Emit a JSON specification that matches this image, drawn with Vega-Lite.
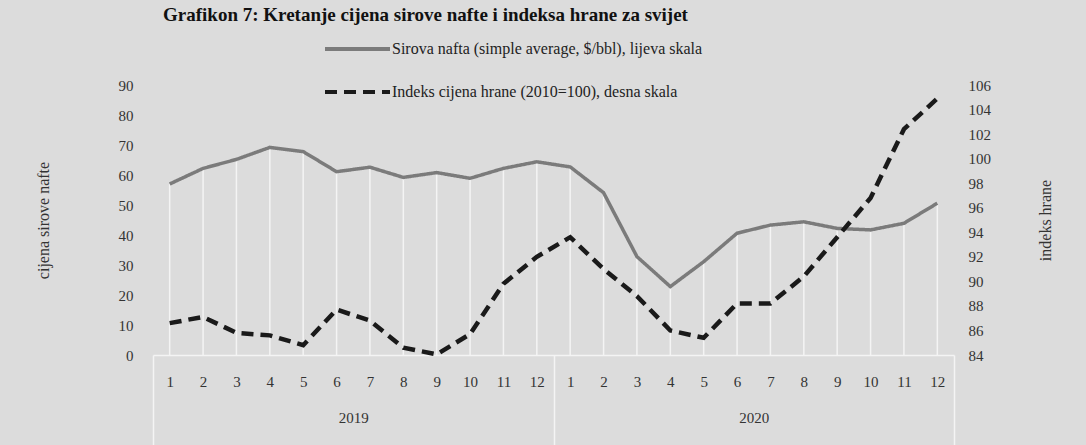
{
  "$schema": "https://vega.github.io/schema/vega-lite/v6.json",
  "width": 801,
  "height": 270,
  "autosize": {"type": "none"},
  "padding": {"left": 153, "top": 85, "right": 132, "bottom": 90},
  "background": "#dcdcdc",
  "config": {"view": {"stroke": null}, "font": "Liberation Serif"},
  "title": {
    "text": "Grafikon 7: Kretanje cijena sirove nafte i indeksa hrane za svijet",
    "anchor": "start",
    "frame": "group",
    "dx": 10,
    "dy": 27,
    "offset": -2,
    "fontSize": 19,
    "fontWeight": "bold",
    "font": "Liberation Serif",
    "color": "#111",
    "baseline": "bottom"
  },
  "data": {
    "values": [
      {"i": 1, "year": "2019", "oil": 57.0, "food": 86.6},
      {"i": 2, "year": "2019", "oil": 62.2, "food": 87.1},
      {"i": 3, "year": "2019", "oil": 65.2, "food": 85.8},
      {"i": 4, "year": "2019", "oil": 69.2, "food": 85.6},
      {"i": 5, "year": "2019", "oil": 67.8, "food": 84.8},
      {"i": 6, "year": "2019", "oil": 61.1, "food": 87.7},
      {"i": 7, "year": "2019", "oil": 62.6, "food": 86.8},
      {"i": 8, "year": "2019", "oil": 59.2, "food": 84.6},
      {"i": 9, "year": "2019", "oil": 60.8, "food": 84.05},
      {"i": 10, "year": "2019", "oil": 58.9, "food": 85.7},
      {"i": 11, "year": "2019", "oil": 62.2, "food": 89.8},
      {"i": 12, "year": "2019", "oil": 64.4, "food": 92.0},
      {"i": 13, "year": "2020", "oil": 62.7, "food": 93.6},
      {"i": 14, "year": "2020", "oil": 54.1, "food": 91.0},
      {"i": 15, "year": "2020", "oil": 32.8, "food": 88.8},
      {"i": 16, "year": "2020", "oil": 22.8, "food": 86.0},
      {"i": 17, "year": "2020", "oil": 31.1, "food": 85.4},
      {"i": 18, "year": "2020", "oil": 40.6, "food": 88.2},
      {"i": 19, "year": "2020", "oil": 43.3, "food": 88.2},
      {"i": 20, "year": "2020", "oil": 44.4, "food": 90.4},
      {"i": 21, "year": "2020", "oil": 42.2, "food": 93.6},
      {"i": 22, "year": "2020", "oil": 41.7, "food": 96.8},
      {"i": 23, "year": "2020", "oil": 43.9, "food": 102.4},
      {"i": 24, "year": "2020", "oil": 50.6, "food": 104.9}
    ]
  },
  "layer": [
    {
      "layer": [
        {
          "layer": [
            {
              "mark": {"type": "rule", "color": "#f4f4f4", "strokeWidth": 1.5},
              "encoding": {
                "x": {
                  "field": "i",
                  "type": "ordinal",
                  "scale": {"type": "point", "padding": 0.5},
                  "axis": {
                    "labelExpr": "(datum.value-1)%12+1",
                    "title": null,
                    "labelAngle": 0,
                    "ticks": false,
                    "domainColor": "#f4f4f4",
                    "domainWidth": 1.5,
                    "labelPadding": 19,
                    "labelFontSize": 15,
                    "labelColor": "#333"
                  }
                },
                "y": {
                  "field": "oil",
                  "type": "quantitative",
                  "scale": {"domain": [0, 90]},
                  "axis": {
                    "values": [0, 10, 20, 30, 40, 50, 60, 70, 80, 90],
                    "title": "cijena sirove nafte",
                    "titleFontSize": 16,
                    "titleFontWeight": "normal",
                    "titleColor": "#333",
                    "titlePadding": 67,
                    "grid": false,
                    "ticks": false,
                    "domain": false,
                    "labelPadding": 20,
                    "labelFontSize": 15,
                    "labelColor": "#333"
                  }
                },
                "y2": {"datum": 0}
              }
            },
            {
              "mark": {"type": "line", "strokeWidth": 3.5},
              "encoding": {
                "x": {"field": "i", "type": "ordinal"},
                "y": {
                  "field": "oil",
                  "type": "quantitative",
                  "axis": {
                    "values": [0, 10, 20, 30, 40, 50, 60, 70, 80, 90],
                    "title": "cijena sirove nafte",
                    "titleFontSize": 16,
                    "titleFontWeight": "normal",
                    "titleColor": "#333",
                    "titlePadding": 67,
                    "grid": false,
                    "ticks": false,
                    "domain": false,
                    "labelPadding": 20,
                    "labelFontSize": 15,
                    "labelColor": "#333"
                  }
                },
                "color": {
                  "datum": "Sirova nafta (simple average, $/bbl), lijeva skala",
                  "type": "nominal",
                  "scale": {
                    "domain": ["Sirova nafta (simple average, $/bbl), lijeva skala", "Indeks cijena hrane (2010=100), desna skala"],
                    "range": ["#7b7b7b", "#1a1a1a"]
                  },
                  "legend": {
                    "orient": "none",
                    "legendX": 170,
                    "legendY": -70.5,
                    "title": null,
                    "symbolType": "stroke",
                    "symbolSize": 4225,
                    "symbolStrokeWidth": 4,
                    "labelFontSize": 16,
                    "labelLimit": 600,
                    "rowPadding": -27,
                    "labelOffset": 0,
                    "labelColor": "#222"
                  }
                },
                "strokeDash": {
                  "datum": "Sirova nafta (simple average, $/bbl), lijeva skala",
                  "type": "nominal",
                  "scale": {
                    "domain": ["Sirova nafta (simple average, $/bbl), lijeva skala", "Indeks cijena hrane (2010=100), desna skala"],
                    "range": [[1, 0], [12, 7]]
                  },
                  "legend": {
                    "orient": "none",
                    "legendX": 170,
                    "legendY": -70.5,
                    "title": null,
                    "symbolType": "stroke",
                    "symbolSize": 4225,
                    "symbolStrokeWidth": 4,
                    "labelFontSize": 16,
                    "labelLimit": 600,
                    "rowPadding": -27,
                    "labelOffset": 0,
                    "labelColor": "#222"
                  }
                }
              }
            }
          ]
        },
        {
          "mark": {"type": "line", "strokeWidth": 4.5},
          "encoding": {
            "x": {"field": "i", "type": "ordinal"},
            "y": {
              "field": "food",
              "type": "quantitative",
              "scale": {"domain": [84, 106]},
              "axis": {
                "orient": "right",
                "values": [84, 86, 88, 90, 92, 94, 96, 98, 100, 102, 104, 106],
                "title": "indeks hrane",
                "titleAngle": -90,
                "titleFontSize": 16,
                "titleFontWeight": "normal",
                "titleColor": "#333",
                "titlePadding": 63,
                "grid": false,
                "ticks": false,
                "domain": false,
                "labelPadding": 14,
                "labelFontSize": 15,
                "labelColor": "#333"
              }
            },
            "color": {"datum": "Indeks cijena hrane (2010=100), desna skala", "type": "nominal"},
            "strokeDash": {"datum": "Indeks cijena hrane (2010=100), desna skala", "type": "nominal"}
          }
        }
      ],
      "resolve": {"scale": {"y": "independent"}}
    },
    {
      "mark": {"type": "rule", "strokeOpacity": 0},
      "encoding": {
        "x": {
          "field": "year",
          "type": "nominal",
          "scale": {"type": "band", "paddingInner": 0, "paddingOuter": 0},
          "axis": {
            "orient": "bottom",
            "title": null,
            "labelAngle": 0,
            "domain": false,
            "tickBand": "extent",
            "tickSize": 90,
            "tickColor": "#f4f4f4",
            "tickWidth": 1.5,
            "labelPadding": -35,
            "labelFontSize": 15,
            "labelColor": "#333"
          }
        }
      }
    }
  ],
  "resolve": {"scale": {"x": "independent"}}
}
